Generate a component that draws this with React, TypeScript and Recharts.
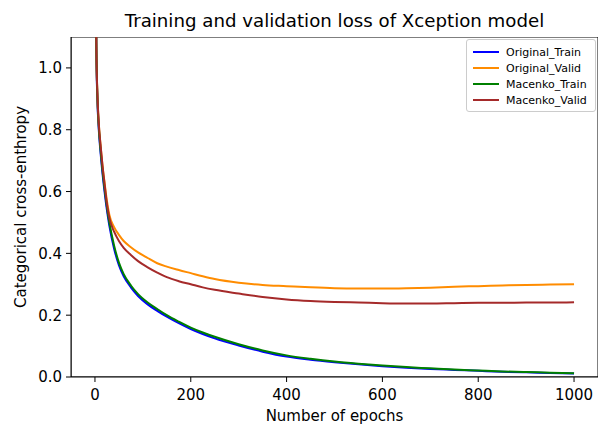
import React from "react";
import { LineChart, Line, XAxis, YAxis, ReferenceArea } from "recharts";

const epochs = [1, 2, 3, 5, 8, 12, 16, 20, 25, 30, 40, 50, 60, 75, 90, 110, 130, 150, 175, 200, 225, 250, 300, 350, 400, 450, 500, 550, 600, 650, 700, 750, 800, 850, 900, 950, 1000];
const originalTrain = [1.7, 1.25, 1.05, 0.9, 0.8, 0.72, 0.655, 0.6, 0.54, 0.49, 0.415, 0.362, 0.326, 0.29, 0.262, 0.235, 0.214, 0.195, 0.174, 0.155, 0.139, 0.125, 0.102, 0.082, 0.066, 0.056, 0.048, 0.041, 0.035, 0.03, 0.026, 0.023, 0.02, 0.017, 0.015, 0.013, 0.011];
const originalValid = [1.7, 1.25, 1.06, 0.92, 0.82, 0.745, 0.68, 0.63, 0.57, 0.525, 0.485, 0.46, 0.44, 0.42, 0.403, 0.385, 0.368, 0.357, 0.346, 0.336, 0.326, 0.317, 0.305, 0.298, 0.294, 0.29, 0.287, 0.286, 0.286, 0.287, 0.289, 0.292, 0.294, 0.296, 0.298, 0.299, 0.3];
const macenkoTrain = [1.72, 1.26, 1.06, 0.91, 0.81, 0.73, 0.665, 0.61, 0.55, 0.5, 0.425, 0.37, 0.333, 0.296, 0.268, 0.241, 0.22, 0.2, 0.179, 0.16, 0.144, 0.13, 0.106, 0.086, 0.07, 0.059, 0.05, 0.043, 0.037, 0.032, 0.028, 0.024, 0.021, 0.018, 0.016, 0.014, 0.012];
const macenkoValid = [1.7, 1.25, 1.06, 0.92, 0.82, 0.745, 0.68, 0.625, 0.56, 0.515, 0.47, 0.44, 0.418, 0.395, 0.375, 0.355, 0.338, 0.323, 0.31, 0.3, 0.29, 0.282, 0.27, 0.259, 0.251, 0.246, 0.243, 0.241, 0.239, 0.238, 0.238, 0.239, 0.24, 0.24, 0.241, 0.241, 0.242];

const xTicks = [0, 200, 400, 600, 800, 1000];
const yTicks = [0, 0.2, 0.4, 0.6, 0.8, 1.0];

const seriesInfo = [
  { key: "Original_Train", color: "#0000ff" },
  { key: "Original_Valid", color: "#ff8c00" },
  { key: "Macenko_Train", color: "#008000" },
  { key: "Macenko_Valid", color: "#a52a2a" },
];

const data = epochs.map((e, i) => ({
  epoch: e,
  Original_Train: originalTrain[i],
  Original_Valid: originalValid[i],
  Macenko_Train: macenkoTrain[i],
  Macenko_Valid: macenkoValid[i],
}));

const FONT = "DejaVu Sans, sans-serif";
const AX_FONT = 15;

const LegendBox = () => (
  <div
    style={{
      position: "absolute",
      left: 466,
      top: 39,
      width: 130,
      height: 73,
      boxSizing: "border-box",
      border: "1px solid #cccccc",
      borderRadius: 3,
      background: "rgba(255,255,255,0.8)",
      padding: "4px 0 0 6px",
      fontFamily: FONT,
      fontSize: 11,
      color: "#000",
    }}
  >
    {seriesInfo.map((s) => (
      <div key={s.key} style={{ display: "flex", alignItems: "center", height: 16 }}>
        <div style={{ width: 26, height: 2, background: s.color, marginRight: 7 }} />
        <span>{s.key}</span>
      </div>
    ))}
  </div>
);

export default function App() {
  return (
    <div style={{ position: "absolute", left: 0, top: 0, width: 603, height: 430, background: "#fff" }}>
      <div
        style={{
          position: "absolute",
          top: 10,
          left: 71,
          width: 527,
          textAlign: "center",
          fontFamily: FONT,
          fontSize: 18.2,
          whiteSpace: "nowrap",
          color: "#000",
        }}
      >
        Training and validation loss of Xception model
      </div>
      <LineChart
        width={603}
        height={430}
        data={data}
        margin={{ top: 37, right: 5, bottom: 0, left: 0 }}
        style={{ fontFamily: FONT }}
      >
        <XAxis
          dataKey="epoch"
          type="number"
          domain={[-50, 1050]}
          ticks={xTicks}
          allowDataOverflow
          height={53}
          tickSize={5}
          tickMargin={7}
          stroke="#000"
          tick={{ fill: "#000", fontSize: AX_FONT, fontFamily: FONT }}
          tickLine={{ stroke: "#000" }}
          label={{ value: "Number of epochs", position: "insideBottom", offset: 9, fill: "#000", fontSize: AX_FONT, fontFamily: FONT }}
        />
        <YAxis
          type="number"
          domain={[0, 1.1]}
          ticks={yTicks}
          allowDataOverflow
          width={71}
          tickSize={5}
          tickMargin={4}
          stroke="#000"
          tickFormatter={(v: number) => v.toFixed(1)}
          tick={{ fill: "#000", fontSize: AX_FONT, fontFamily: FONT }}
          tickLine={{ stroke: "#000" }}
          label={{ value: "Categorical cross-enthropy", angle: -90, position: "insideLeft", offset: 21, fill: "#000", fontSize: AX_FONT, fontFamily: FONT, style: { textAnchor: "middle" } }}
        />
        <ReferenceArea x1={-50} x2={1050} y1={0} y2={1.1} fill="none" stroke="#000" strokeWidth={1} ifOverflow="hidden" />
        {seriesInfo.map((s) => (
          <Line
            key={s.key}
            dataKey={s.key}
            stroke={s.color}
            strokeWidth={2}
            dot={false}
            type="monotone"
            isAnimationActive={false}
          />
        ))}
      </LineChart>
      <LegendBox />
    </div>
  );
}
